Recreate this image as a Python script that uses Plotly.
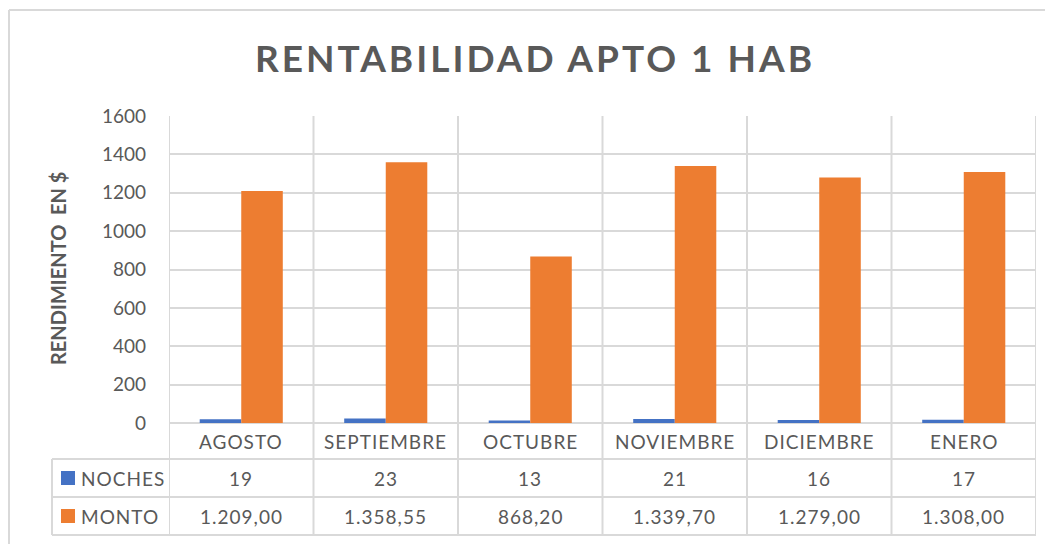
import plotly.graph_objects as go

# ---- data ----
categories = ["AGOSTO", "SEPTIEMBRE", "OCTUBRE", "NOVIEMBRE", "DICIEMBRE", "ENERO"]
noches = [19, 23, 13, 21, 16, 17]
monto = [1209.00, 1358.55, 868.20, 1339.70, 1279.00, 1308.00]
series_names = ["NOCHES", "MONTO"]
series_colors = ["#4472C4", "#ED7D31"]
y_ticks = [0, 200, 400, 600, 800, 1000, 1200, 1400, 1600]
title_text = "RENTABILIDAD APTO 1 HAB"
y_title = "RENDIMIENTO  EN $"

W, H = 1053, 544
OFF = 8  # page body margin
TXT = "#595959"
GRID = "#d9d9d9"
FONT = "Lato"


def px(x):
    return (x - OFF) / W


def py(y):
    return 1 - (y - OFF) / H


def fmt_es(v):
    s = f"{v:,.2f}"
    return s.replace(",", "X").replace(".", ",").replace("X", ".")


def spaced(t, sp=1):
    return f"<span style='letter-spacing:{sp}px'>{t}</span>"


fig = go.Figure()
fig.add_trace(go.Bar(x=categories, y=noches, name=series_names[0],
                     marker=dict(color=series_colors[0], line=dict(width=0))))
fig.add_trace(go.Bar(x=categories, y=monto, name=series_names[1],
                     marker=dict(color=series_colors[1], line=dict(width=0))))

shapes = []
annotations = []

# outer chart border
shapes.append(dict(type="line", xref="paper", yref="paper", x0=px(9), x1=px(1070), y0=py(10), y1=py(10),
                   line=dict(color=GRID, width=2)))
shapes.append(dict(type="line", xref="paper", yref="paper", x0=px(9), x1=px(9), y0=py(10), y1=py(570),
                   line=dict(color=GRID, width=2)))

# vertical category boundaries (plot + table)
n = len(categories)
for i in range(n + 1):
    shapes.append(dict(type="line", xref="x", yref="paper", x0=i - 0.5, x1=i - 0.5, y0=py(116), y1=py(535),
                       line=dict(color=GRID, width=2), layer="below"))
# table horizontal lines
for yy in [459, 497, 535]:
    shapes.append(dict(type="line", xref="paper", yref="paper", x0=px(52), x1=px(1036), y0=py(yy), y1=py(yy),
                       line=dict(color=GRID, width=2)))
shapes.append(dict(type="line", xref="paper", yref="paper", x0=px(52), x1=px(52), y0=py(459), y1=py(535),
                   line=dict(color=GRID, width=2)))

# category labels row
for c in categories:
    annotations.append(dict(x=c, y=py(441), xref="x", yref="paper", text=spaced(c), showarrow=False,
                            font=dict(family=FONT, size=19, color=TXT), xanchor="center", yanchor="middle"))

# table rows
row_y = [478, 516]
row_vals = [[str(v) for v in noches], [fmt_es(v) for v in monto]]
for name, color, yy, vals in zip(series_names, series_colors, row_y, row_vals):
    shapes.append(dict(type="rect", xref="paper", yref="paper", x0=px(61), x1=px(75),
                       y0=py(yy - 7), y1=py(yy + 7), fillcolor=color, line=dict(width=0)))
    annotations.append(dict(x=px(79), y=py(yy), xref="paper", yref="paper", text=spaced(name), showarrow=False,
                            font=dict(family=FONT, size=19, color=TXT), xanchor="left", yanchor="middle"))
    for c, v in zip(categories, vals):
        annotations.append(dict(x=c, y=py(yy), xref="x", yref="paper", text=spaced(v), showarrow=False,
                                font=dict(family=FONT, size=19, color=TXT), xanchor="center", yanchor="middle"))

# title
annotations.append(dict(x=px(535), y=py(57), xref="paper", yref="paper",
                        text=f"<b>{spaced(title_text, 3)}</b>", showarrow=False,
                        font=dict(family=FONT, size=37, color=TXT), xanchor="center", yanchor="middle"))
# y axis title
annotations.append(dict(x=px(58), y=py(269), xref="paper", yref="paper", text=f"<b>{y_title}</b>",
                        showarrow=False, textangle=-90,
                        font=dict(family=FONT, size=20, color=TXT), xanchor="center", yanchor="middle"))

fig.update_layout(
    width=W, height=H,
    margin=dict(l=0, r=0, t=0, b=0),
    paper_bgcolor="white", plot_bgcolor="white",
    barmode="group", bargap=0.425, bargroupgap=0,
    showlegend=False,
    shapes=shapes, annotations=annotations,
    xaxis=dict(domain=[px(169), px(1036)], range=[-0.5, n - 0.5], showticklabels=False, automargin=False,
               showgrid=False, zeroline=False, showline=False, ticks=""),
    yaxis=dict(domain=[py(423), py(116)], range=[0, 1600], tickvals=y_ticks, automargin=False,
               showgrid=True, gridcolor=GRID, gridwidth=2, zeroline=True, zerolinecolor=GRID, zerolinewidth=2,
               showline=False, ticks="", ticklabelstandoff=22,
               tickfont=dict(family=FONT, size=19, color=TXT)),
)

fig.write_html("out.html")
